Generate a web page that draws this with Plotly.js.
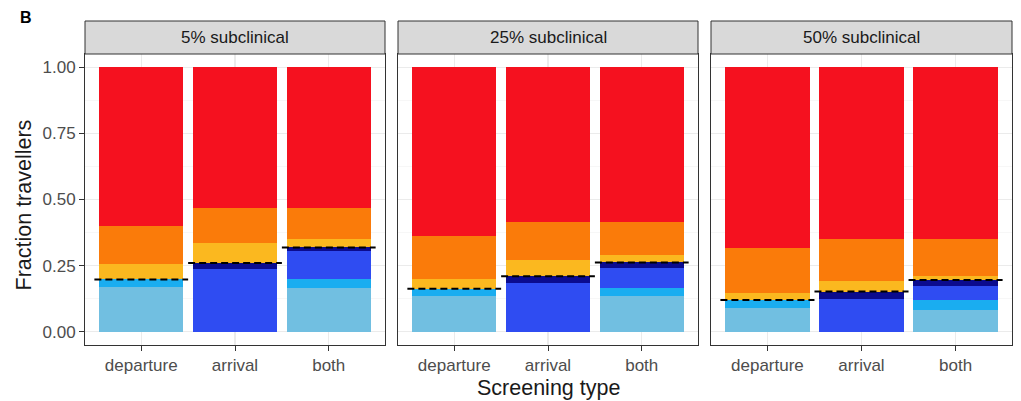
<!DOCTYPE html>
<html>
<head>
<meta charset="utf-8">
<script src="https://cdn.plot.ly/plotly-3.0.1.min.js"></script>
<style>
  html, body { margin: 0; padding: 0; background: #fff; }
  #chart { width: 1021px; height: 401px; }
</style>
</head>
<body>
<div id="chart"></div>
<script>
// Screening scenarios (facets) and screening types (x categories)
const panels = ["5% subclinical", "25% subclinical", "50% subclinical"];
const screeningTypes = ["departure", "arrival", "both"];

// Stack order, bottom to top
const segmentNames = [
  "detected departure (late)", "detected departure (early)",
  "detected arrival", "detected arrival (subclinical)",
  "missed subclinical", "missed incubating", "missed"
];
const segmentColors = ["#71BFE1", "#1AADF0", "#2F4CF2", "#0B0B8E", "#FBB81F", "#FA7B0A", "#F5111F"];
// Which segments count as detected (summed for the dashed line)
const detectedFlags = [true, true, true, true, false, false, false];

// Fractions per segment; rows = segments, columns = departure, arrival, both
const values5 = [
  [0.170, 0.000, 0.166],
  [0.028, 0.000, 0.034],
  [0.000, 0.236, 0.105],
  [0.000, 0.024, 0.014],
  [0.057, 0.077, 0.033],
  [0.145, 0.130, 0.115],
  [0.600, 0.533, 0.533]
];
const values25 = [
  [0.134, 0.000, 0.134],
  [0.029, 0.000, 0.032],
  [0.000, 0.185, 0.076],
  [0.000, 0.025, 0.020],
  [0.037, 0.060, 0.027],
  [0.162, 0.146, 0.127],
  [0.638, 0.584, 0.584]
];
const values50 = [
  [0.090, 0.000, 0.084],
  [0.030, 0.000, 0.038],
  [0.000, 0.124, 0.050],
  [0.000, 0.028, 0.024],
  [0.027, 0.039, 0.014],
  [0.171, 0.159, 0.142],
  [0.682, 0.650, 0.648]
];
const panelValues = [values5, values25, values50];

// Y axis ticks
const yTickVals = [0, 0.25, 0.5, 0.75, 1];
const yTickText = ["0.00", "0.25", "0.50", "0.75", "1.00"];

// Page geometry (pixels)
const W = 1021, H = 401;
const panelPx = [[85, 385], [398, 698], [711, 1012]];
const plotTop = 54, plotBottom = 345, stripTop = 21;
const px = v => v / W;
const py = v => (H - v) / H;

const font = "Liberation Sans, Arial, sans-serif";
const gridColor = "#EBEBEB";
const frameColor = "#333333";

const traces = [];
const shapes = [];
const annotations = [];
const layout = {
  width: W, height: H,
  margin: { l: 0, r: 0, t: 0, b: 0 },
  paper_bgcolor: "#FFFFFF",
  plot_bgcolor: "#FFFFFF",
  barmode: "stack",
  bargap: 0.1,
  showlegend: false,
  font: { family: font, color: "#4D4D4D" }
};

panels.forEach((panel, p) => {
  const sfx = p === 0 ? "" : String(p + 1);
  const xa = "x" + sfx, ya = "y" + sfx;
  const vals = panelValues[p];

  vals.forEach((row, s) => {
    traces.push({
      type: "bar",
      name: segmentNames[s],
      x: screeningTypes,
      y: row,
      xaxis: xa, yaxis: ya,
      marker: { color: segmentColors[s], line: { width: 0 } },
      hoverinfo: "x+y+name"
    });
  });

  // Dashed line at the detected fraction of each bar
  screeningTypes.forEach((t, i) => {
    let detected = 0;
    vals.forEach((row, s) => { if (detectedFlags[s]) detected += row[i]; });
    shapes.push({
      type: "line", xref: xa, yref: ya,
      x0: i - 0.5, x1: i + 0.5, y0: detected, y1: detected,
      line: { color: "#000000", width: 2, dash: "7px,4px" }
    });
  });

  layout["xaxis" + sfx] = {
    domain: [px(panelPx[p][0]), px(panelPx[p][1])],
    anchor: ya,
    type: "category",
    categoryorder: "array",
    categoryarray: screeningTypes,
    range: [-0.6, 2.6],
    showgrid: true, gridcolor: gridColor, gridwidth: 1.1,
    zeroline: false,
    showline: true, mirror: true, linecolor: frameColor, linewidth: 1,
    ticks: "outside", ticklen: 5, tickcolor: frameColor, tickwidth: 1,
    ticklabelstandoff: 0,
    tickfont: { family: font, size: 17, color: "#4D4D4D" },
    fixedrange: true
  };
  layout["yaxis" + sfx] = {
    domain: [py(plotBottom), py(plotTop)],
    anchor: xa,
    range: [-0.05, 1.05],
    tickmode: "array", tickvals: yTickVals, ticktext: yTickText,
    showticklabels: p === 0,
    ticks: p === 0 ? "outside" : "",
    ticklen: 5, tickcolor: frameColor, tickwidth: 1,
    tickfont: { family: font, size: 17, color: "#4D4D4D" },
    showgrid: true, gridcolor: gridColor, gridwidth: 1.1,
    minor: { tickmode: "array", tickvals: [0.125, 0.375, 0.625, 0.875], showgrid: true, gridcolor: "#F2F2F2", gridwidth: 0.6, ticks: "" },
    zeroline: false,
    showline: true, mirror: true, linecolor: frameColor, linewidth: 1,
    fixedrange: true
  };

  // Facet strip
  shapes.push({
    type: "rect", xref: "paper", yref: "paper", layer: "above",
    x0: px(panelPx[p][0]), x1: px(panelPx[p][1]),
    y0: py(plotTop), y1: py(stripTop),
    fillcolor: "#D9D9D9", line: { color: frameColor, width: 1 }
  });
  annotations.push({
    xref: "paper", yref: "paper",
    x: px((panelPx[p][0] + panelPx[p][1]) / 2), y: py((plotTop + stripTop) / 2),
    xanchor: "center", yanchor: "middle", showarrow: false,
    text: panel, font: { family: font, size: 17, color: "#1A1A1A" }
  });
});

// Axis titles and panel letter
annotations.push({
  xref: "paper", yref: "paper",
  x: px((panelPx[0][0] + panelPx[2][1]) / 2), y: py(388),
  xanchor: "center", yanchor: "middle", showarrow: false,
  text: "Screening type", font: { family: font, size: 21.5, color: "#1A1A1A" }
});
annotations.push({
  xref: "paper", yref: "paper",
  x: px(23), y: py((plotTop + plotBottom) / 2 + 6),
  xanchor: "center", yanchor: "middle", showarrow: false, textangle: -90,
  text: "Fraction travellers", font: { family: font, size: 21.5, color: "#1A1A1A" }
});
annotations.push({
  xref: "paper", yref: "paper",
  x: px(18), y: py(17),
  xanchor: "left", yanchor: "middle", showarrow: false,
  text: "<b>B</b>", font: { family: font, size: 16, color: "#000000" }
});

layout.shapes = shapes;
layout.annotations = annotations;

Plotly.newPlot("chart", traces, layout, { displayModeBar: false, staticPlot: true });
</script>
</body>
</html>
